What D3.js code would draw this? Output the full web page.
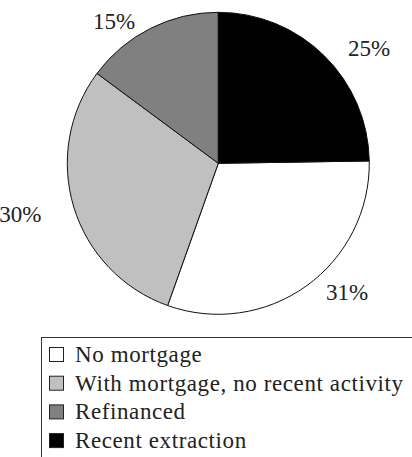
<!DOCTYPE html>
<html>
<head>
<meta charset="utf-8">
<script src="https://cdn.jsdelivr.net/npm/d3@7"></script>
<style>
    html, body { margin: 0; padding: 0; background: #fff; }
    svg { display: block; }
    text { font-family: 'Liberation Serif', 'DejaVu Serif', serif; }
</style>
</head>
<body>
<svg id="drawing_region"></svg>
<script>
// legend order
const categories = ['No mortgage', 'With mortgage, no recent activity', 'Refinanced', 'Recent extraction'];
const values = [31, 30, 15, 25];
const valueLabels = ['31%', '30%', '15%', '25%'];
const colors = ['#ffffff', '#c0c0c0', '#808080', '#000000'];

const config = {
    width: 412,
    height: 457,
    cx: 218.3,
    cy: 163.3,
    radius: 151,
};

const svg = d3.select('#drawing_region')
    .attr('width', config.width)
    .attr('height', config.height);

const data = categories.map((c, i) => ({ label: c, value: values[i], text: valueLabels[i], color: colors[i] }));

// the black slice sits at 12 o'clock, so the pie starts where it ends
const total = d3.sum(values);
const start = 2 * Math.PI * values[3] / total;

const pie = d3.pie()
    .sort(null)
    .value(d => d.value)
    .startAngle(start)
    .endAngle(start + 2 * Math.PI);

const arc = d3.arc()
    .innerRadius(0)
    .outerRadius(config.radius);

const arcs = pie(data);

const chart = svg.append('g')
    .attr('transform', `translate(${config.cx}, ${config.cy})`);

// Draw slices
chart.selectAll('path')
    .data(arcs)
    .enter()
    .append('path')
    .attr('d', arc)
    .attr('fill', d => d.data.color)
    .attr('stroke', '#111')
    .attr('stroke-width', 1);

// Draw percentage labels, corner of the text box toward the pie
const rx = 185, ry = 150, capH = 15;
chart.selectAll('text.pct')
    .data(arcs)
    .enter()
    .append('text')
    .attr('class', 'pct')
    .each(function(d) {
        const a = (d.startAngle + d.endAngle) / 2;
        const x = Math.sin(a) * rx;
        const y = -Math.cos(a) * ry;
        d3.select(this)
            .attr('x', x)
            .attr('y', y < 0 ? y : y + capH)
            .attr('text-anchor', x >= 0 ? 'start' : 'end');
    })
    .attr('font-size', '23px')
    .attr('fill', '#222')
    .text(d => d.data.text);

// Legend
const legend = svg.append('g');

legend.append('rect')
    .attr('x', 41.5)
    .attr('y', 337.5)
    .attr('width', 420)
    .attr('height', 200)
    .attr('fill', 'none')
    .attr('stroke', '#333')
    .attr('stroke-width', 1);

const yscale = d3.scaleBand()
    .domain(categories)
    .range([347, 347 + 4 * 28.7]);

const items = legend.selectAll('g.item')
    .data(data)
    .enter()
    .append('g')
    .attr('class', 'item')
    .attr('transform', d => `translate(0, ${yscale(d.label)})`);

items.append('rect')
    .attr('x', 49.5)
    .attr('y', 0.5)
    .attr('width', 14)
    .attr('height', 14)
    .attr('fill', d => d.color)
    .attr('stroke', '#222')
    .attr('stroke-width', 1);

items.append('text')
    .attr('x', 75)
    .attr('y', 15)
    .attr('font-size', '23px')
    .attr('letter-spacing', '0.6px')
    .attr('fill', '#222')
    .text(d => d.label);
</script>
</body>
</html>
